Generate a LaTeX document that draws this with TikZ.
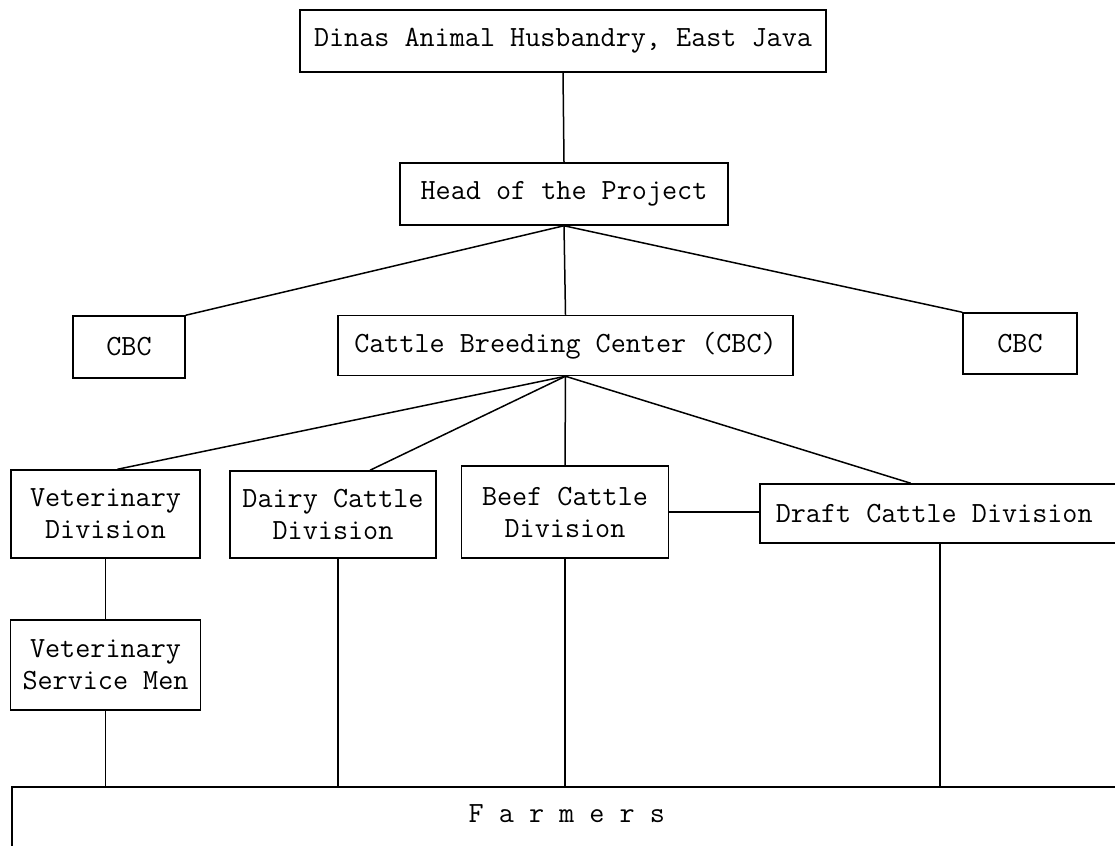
\documentclass[tikz,border=0pt]{standalone}
\usepackage{fontspec}
\usepackage{tikz}
\usetikzlibrary{calc}

\begin{document}
\begin{tikzpicture}[x=1pt, y=-1pt,
    box/.style={draw, line width=1.5pt, inner sep=0pt, align=center,
        font={\ttfamily\fontsize{29.3}{32}\selectfont}},
    link/.style={line width=1.5pt}]
    \useasboundingbox (0,0) rectangle (1115,845);
    \clip (0,0) rectangle (1115,845);

    % Top levels
    \node[box, minimum width=526, minimum height=62] (dinas) at (563,41) {Dinas Animal Husbandry, East Java};
    \node[box, minimum width=328, minimum height=62] (head) at (564,194) {Head of the Project};

    % Breeding centers
    \node[box, minimum width=112, minimum height=62] (cbcleft) at (129,347) {CBC};
    \node[box, minimum width=455, minimum height=60] (cbc) at (565.5,345.5) {Cattle Breeding Center (CBC)};
    \node[box, minimum width=114, minimum height=61] (cbcright) at (1020,343.5) {CBC};

    % Divisions
    \node[box, minimum width=189, minimum height=88] (vetdiv) at (105.5,514) {Veterinary\\Division};
    \node[box, minimum width=206, minimum height=87] (dairy) at (333,514.5) {Dairy Cattle\\Division};
    \node[box, minimum width=207, minimum height=92] (beef) at (565,512) {Beef Cattle\\Division};
    \node[box, anchor=west, text width=370, inner xsep=16, align=flush left, minimum height=59] (draft) at (759,513.5) {Draft Cattle Division};

    % Service men and farmers
    \node[box, minimum width=190, minimum height=90] (vetmen) at (105.5,665) {Veterinary\\Service Men};
    \node[box, anchor=north west, minimum width=1110, text height=36, text depth=50] (farmers) at (11,786) {F a r m e r s};

    % Connectors
    \draw[link] (dinas.south) -- (head.north);
    \draw[link] (head.south) -- (cbcleft.north east);
    \draw[link] (head.south) -- (cbc.north);
    \draw[link] (head.south) -- (cbcright.north west);
    \draw[link] (cbc.south) -- ($(vetdiv.north)+(12,0)$);
    \draw[link] (cbc.south) -- ($(dairy.north)+(37,0)$);
    \draw[link] (cbc.south) -- (beef.north);
    \draw[link] (cbc.south) -- ($(draft.north west)!0.376!(draft.north east)$);
    \draw[link] (beef.east) -- (beef.east -| draft.west);
    \draw[link] (vetdiv.south) -- (vetmen.north);
    \draw[link] (vetmen.south) -- (vetmen.south |- farmers.north);
    \draw[link] ($(dairy.south)+(5,0)$) -- ($(dairy.south |- farmers.north)+(5,0)$);
    \draw[link] (beef.south) -- (beef.south |- farmers.north);
    \draw[link] ($(draft.south west)!0.448!(draft.south east)$) coordinate (draftfoot) -- (draftfoot |- farmers.north);
\end{tikzpicture}
\end{document}
